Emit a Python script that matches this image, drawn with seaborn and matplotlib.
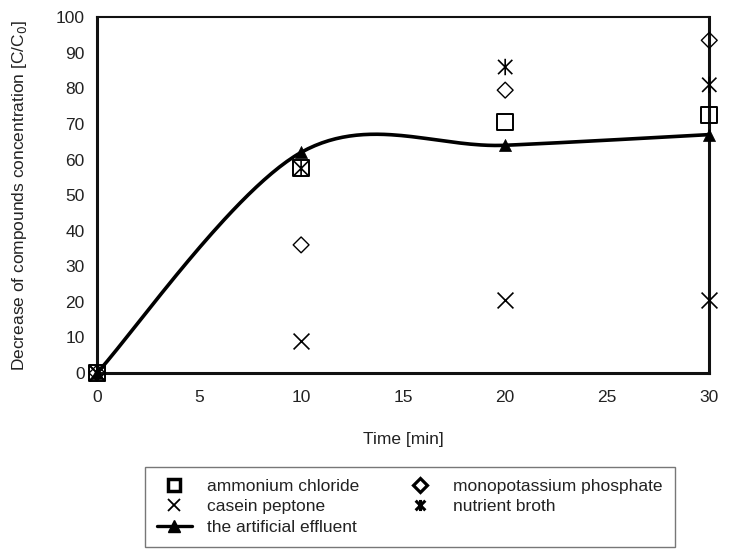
import numpy as np
import pandas as pd
import matplotlib
matplotlib.use("Agg")
import matplotlib.pyplot as plt
from matplotlib.path import Path
from matplotlib.lines import Line2D
import seaborn as sns

# Sampling times [min]
time_min = [0, 10, 20, 30]

# Decrease of concentration [C/C0] for each compound
ammonium_chloride = [0, 57.5, 70.5, 72.5]
casein_peptone = [0, 9, 20.5, 20.5]
monopotassium_phosphate = [0, 36, 79.5, 93.5]
nutrient_broth = [0, 57.5, 86, 81]
artificial_effluent = [0, 62, 64, 67]

x_ticks = [0, 5, 10, 15, 20, 25, 30]
y_ticks = [0, 10, 20, 30, 40, 50, 60, 70, 80, 90, 100]

sns.set_style("white")
plt.rcParams["font.family"] = ["Liberation Sans", "DejaVu Sans"]
TXT = "#222222"
FS = 12.5


def smooth_curve(xs, ys, n=60):
    """Smoothed line through the points using cubic Bezier segments
    with Catmull-Rom style control points (spreadsheet 'smoothed line')."""
    P = np.column_stack([xs, ys]).astype(float)
    out = []
    for i in range(len(P) - 1):
        p0 = P[i - 1] if i > 0 else P[i]
        p1, p2 = P[i], P[i + 1]
        p3 = P[i + 2] if i + 2 < len(P) else P[i + 1]
        c1 = p1 + (p2 - p0) / 6.0
        c2 = p2 - (p3 - p1) / 6.0
        t = np.linspace(0, 1, n)[:, None]
        seg = ((1 - t) ** 3) * p1 + 3 * ((1 - t) ** 2) * t * c1 \
            + 3 * (1 - t) * t ** 2 * c2 + t ** 3 * p2
        out.append(seg if i == 0 else seg[1:])
    return np.vstack(out)


# six-armed asterisk marker: an x plus a vertical stroke
star_path = Path(
    [(-1, -1), (1, 1), (-1, 1), (1, -1), (0, -1.15), (0, 1.15)],
    [Path.MOVETO, Path.LINETO, Path.MOVETO, Path.LINETO, Path.MOVETO, Path.LINETO],
)

fig = plt.figure(figsize=(7.35, 5.55), dpi=100)
ax = fig.add_axes([0.132, 0.328, 0.833, 0.641])

curve = smooth_curve(time_min, artificial_effluent)
curve_df = pd.DataFrame({"t": curve[:, 0], "c": curve[:, 1]})
sns.lineplot(data=curve_df, x="t", y="c", ax=ax, color="black", lw=2.6,
             sort=False, estimator=None, clip_on=False, zorder=3)

sns.scatterplot(x=time_min, y=artificial_effluent, ax=ax, marker="^", s=75,
                color="black", edgecolor="black", linewidth=0.5, clip_on=False, zorder=4)
sns.scatterplot(x=time_min, y=ammonium_chloride, ax=ax, marker="s", s=130,
                facecolor="none", edgecolor="black", linewidth=1.4, clip_on=False, zorder=4)
sns.scatterplot(x=time_min, y=casein_peptone, ax=ax, marker="x", s=130,
                color="black", linewidth=1.2, clip_on=False, zorder=4)
sns.scatterplot(x=time_min, y=monopotassium_phosphate, ax=ax, marker="D", s=65,
                facecolor="none", edgecolor="black", linewidth=1.0, clip_on=False, zorder=4)
sns.scatterplot(x=time_min, y=nutrient_broth, ax=ax, marker=star_path, s=140,
                facecolor="none", edgecolor="black", linewidth=1.2, clip_on=False, zorder=4)

ax.set_xlim(0, 30)
ax.set_ylim(0, 100)
ax.set_xticks(x_ticks)
ax.set_yticks(y_ticks)
ax.set_xticklabels([str(v) for v in x_ticks])
ax.set_yticklabels([str(v) for v in y_ticks])
ax.tick_params(axis="both", direction="out", length=5, width=1.8, colors="#111111",
               labelcolor=TXT, labelsize=FS)
ax.tick_params(axis="x", pad=7)
ax.tick_params(axis="y", pad=4)

for side in ["left", "right", "bottom"]:
    ax.spines[side].set_visible(True)
    ax.spines[side].set_linewidth(2.2)
    ax.spines[side].set_color("#111111")
ax.spines["top"].set_visible(True)
ax.spines["top"].set_linewidth(1.5)
ax.spines["top"].set_color("#111111")

ax.set_xlabel("Time [min]", fontsize=FS, color=TXT, labelpad=20)
ax.set_ylabel("Decrease of compounds concentration [C/C$_0$]", fontsize=FS,
              color=TXT, labelpad=19)

handles = [
    Line2D([], [], ls="none", marker="s", ms=9, mfc="none", mec="black", mew=2.5),
    Line2D([], [], ls="none", marker="x", ms=8, color="black", mew=1.3),
    Line2D([], [], ls="-", lw=2.4, color="black", marker="^", ms=8),
    Line2D([], [], ls="none", marker="D", ms=7, mfc="none", mec="black", mew=2.3),
    Line2D([], [], ls="none", marker=star_path, ms=8, mfc="none", mec="black", mew=2.2),
]
labels = ["ammonium chloride", "casein peptone", "the artificial effluent",
          "monopotassium phosphate", "nutrient broth"]
leg = fig.legend(handles, labels, ncol=2, loc="upper left",
                 bbox_to_anchor=(0.197, 0.159), bbox_transform=fig.transFigure,
                 borderaxespad=0.0, frameon=True, fancybox=False,
                 fontsize=FS, handlelength=2.0, handletextpad=0.9,
                 columnspacing=2.5, labelspacing=0.3, borderpad=0.7)
leg.get_frame().set_edgecolor("#555555")
leg.get_frame().set_linewidth(1.0)
for t in leg.get_texts():
    t.set_color(TXT)

fig.savefig("out.png", dpi=100)
